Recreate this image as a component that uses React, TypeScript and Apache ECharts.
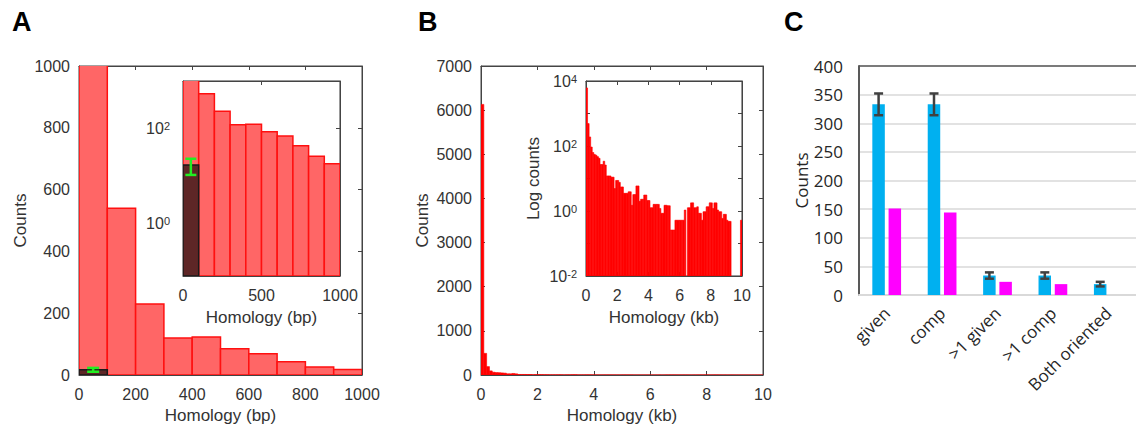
import React, { useEffect, useRef } from 'react';
import * as echarts from 'echarts';

// ---------- Panel A ----------
const aBinStarts = [0, 100, 200, 300, 400, 500, 600, 700, 800, 900];
const aBinWidth = 100;
const aCounts = [1150, 540, 230, 120, 123, 85, 69, 43, 26, 18];
const aOverlayBin = [0, 100];
const aOverlayCount = 17;
const aErr = { x: 50, low: 10.5, high: 23 };

// ---------- Panel B ----------
const bBinWidth = 0.1;
const bCounts = [
  6130, 490, 190, 93, 63, 55, 52, 47, 42, 27,
  27, 34, 26, 12, 12, 12, 11, 11, 4.9, 8.7,
  8.7, 7.6, 5.5, 5.5, 3.5, 3.5, 3.5, 3.9, 3.9, 1.5,
  3.2, 3.2, 5.9, 5.9, 2.0, 2.3, 2.3, 3.1, 3.1, 2.1,
  2.1, 1.26, 1.26, 1.6, 1.6, 1.6, 1.6, 1.2, 0.85, 0.85,
  1.5, 1.5, 1.45, 1.45, 0.26, 0.26, 0.26, 0.52, 0.52, 0.52,
  0.52, 0.52, 0.52, 1.07, 0, 1.26, 1.26, 1.78, 1.78, 1.26,
  1.26, 1.35, 0.85, 0.85, 0.52, 0.95, 0.95, 1.35, 1.35, 1.78,
  1.78, 1.2, 1.78, 1.78, 1.07, 0.95, 0.95, 0.59, 0.79, 0.79,
  0.52, 0.48, 0.48, 0, 0, 0, 0, 0, 0, 0.52,
];

// ---------- Panel C ----------
const cCategories = ['given', 'comp', '>1 given', '>1 comp', 'Both oriented'];
const cCyan = [333, 333, 34, 34, 19];
const cMagenta = [151, 144, 23, 19, 0];
const cCyanErr = [19, 19, 5.5, 5.5, 4];

const MFONT = '"Liberation Sans", Arial, Helvetica, sans-serif';
const XFONT = '"Open Sans", "Noto Sans", sans-serif';
const AX = '#444';
const TXT = '#333';
const plain = (v: number) => String(v);

function histSeries(xi: number, yi: number, data: any[], floor: number, style: any) {
  return {
    type: 'custom',
    xAxisIndex: xi,
    yAxisIndex: yi,
    clip: true,
    encode: { x: [0, 1], y: 2 },
    data,
    renderItem: (params: any, api: any) => {
      const y = api.value(2);
      if (y == null || isNaN(y)) return null;
      const p0 = api.coord([api.value(0), y]);
      const p1 = api.coord([api.value(1), floor]);
      return {
        type: 'rect',
        shape: { x: p0[0], y: p0[1], width: p1[0] - p0[0], height: p1[1] - p0[1] },
        style,
      };
    },
  };
}

function errSeries(xi: number, yi: number, data: any[], capHalf: number, dx: number, stroke: string, lw: number) {
  return {
    type: 'custom',
    xAxisIndex: xi,
    yAxisIndex: yi,
    z: 5,
    encode: { x: 0, y: [1, 2] },
    data,
    renderItem: (params: any, api: any) => {
      const x = api.value(0);
      const pl = api.coord([x, api.value(1)]);
      const ph = api.coord([x, api.value(2)]);
      const cx = pl[0] + dx;
      const st = { stroke, lineWidth: lw };
      return {
        type: 'group',
        children: [
          { type: 'line', shape: { x1: cx, y1: pl[1], x2: cx, y2: ph[1] }, style: st },
          { type: 'line', shape: { x1: cx - capHalf, y1: pl[1], x2: cx + capHalf, y2: pl[1] }, style: st },
          { type: 'line', shape: { x1: cx - capHalf, y1: ph[1], x2: cx + capHalf, y2: ph[1] }, style: st },
        ],
      };
    },
  };
}

// empty series that only binds the secondary (top/right) axes so they get drawn
function bindSeries(xi: number, yi: number) {
  return {
    type: 'custom', xAxisIndex: xi, yAxisIndex: yi, data: [],
    renderItem: () => null, silent: true,
  };
}

const supFormatter = (v: number) => {
  const e = Math.round(Math.log10(v));
  if (e % 2 !== 0) return '';
  return '{b|10}{s|' + e + '}';
};
const supRich = {
  b: { fontSize: 16, fontFamily: MFONT, color: TXT, verticalAlign: 'bottom', lineHeight: 16 },
  s: { fontSize: 11, fontFamily: MFONT, color: TXT, verticalAlign: 'top', lineHeight: 11, padding: [0, 0, 9, 0] },
};

function mAxis(extra: any) {
  return {
    axisLine: { show: true, onZero: false, lineStyle: { color: AX, width: 1 } },
    axisTick: { show: true, inside: true, length: 4, lineStyle: { color: AX } },
    splitLine: { show: false },
    axisLabel: { color: TXT, fontSize: 16, fontFamily: MFONT, margin: 9, formatter: plain },
    nameTextStyle: { color: TXT, fontSize: 17, fontFamily: MFONT },
    ...extra,
  };
}

function boxAxis(grid: number, pos: string, type: string, extra: any) {
  return mAxis({ gridIndex: grid, position: pos, type, offset: 0, axisLabel: { show: false }, ...extra });
}

const xLab = { color: TXT, fontSize: 16, fontFamily: MFONT, margin: 11, formatter: plain };

export default function App() {
  const ref = useRef<HTMLDivElement>(null);
  useEffect(() => {
    if (!ref.current) return;
    const chart = echarts.init(ref.current, null, { renderer: 'svg' });

    const aData = aBinStarts.map((s, i) => [s, s + aBinWidth, aCounts[i]]);
    const aOverlay = [[aOverlayBin[0], aOverlayBin[1], aOverlayCount]];
    const aErrData = [[aErr.x, aErr.low, aErr.high]];
    const bData = bCounts.map((c, i) => [i * bBinWidth, (i + 1) * bBinWidth, c]);
    const bLogData = bCounts.map((c, i) => [i * bBinWidth, (i + 1) * bBinWidth, c > 0 ? c : '-']);
    const cErrData = cCyan.map((v, i) => [i, v - cCyanErr[i], v + cCyanErr[i]]);

    const redStyle = { fill: '#FF6666', stroke: '#FF1010', lineWidth: 1.5 };
    const darkStyle = { fill: '#5E2626', stroke: '#1a1a1a', lineWidth: 1.5 };
    const pureRed = { fill: '#FF0000', stroke: '#FF0000', lineWidth: 0.6 };

    const aLogMin = 0.078;
    const bLogMin = 0.01;

    const option: any = {
      animation: false,
      backgroundColor: '#fff',
      title: [
        { text: 'A', left: 7, top: 3, textStyle: { fontSize: 27, fontWeight: 'bold', color: '#000', fontFamily: MFONT } },
        { text: 'B', left: 413, top: 3, textStyle: { fontSize: 27, fontWeight: 'bold', color: '#000', fontFamily: MFONT } },
        { text: 'C', left: 779, top: 3, textStyle: { fontSize: 27, fontWeight: 'bold', color: '#000', fontFamily: MFONT } },
      ],
      // top frame line of panel C's plot area (Excel plot-area border)
      graphic: [
        { type: 'line', z: 10, shape: { x1: 859, y1: 66, x2: 1136, y2: 66 }, style: { stroke: '#595959', lineWidth: 1.5 } },
      ],
      grid: [
        { left: 79, top: 66, width: 283, height: 310, show: true, borderColor: AX, borderWidth: 1, backgroundColor: 'transparent' },
        { left: 183, top: 81, width: 157, height: 195, show: true, backgroundColor: '#fff', borderColor: '#333', borderWidth: 1, z: 3 },
        { left: 481, top: 66, width: 282, height: 310, show: true, borderColor: AX, borderWidth: 1, backgroundColor: 'transparent' },
        { left: 586, top: 81, width: 156, height: 195, show: true, backgroundColor: '#fff', borderColor: '#333', borderWidth: 1, z: 3 },
        { left: 859, top: 66, width: 283, height: 229 },
      ],
      xAxis: [
        mAxis({ gridIndex: 0, type: 'value', min: 0, max: 1000, interval: 200, name: 'Homology (bp)', nameLocation: 'middle', nameGap: 32, axisLabel: xLab }),
        boxAxis(0, 'top', 'value', { min: 0, max: 1000, interval: 200 }),
        mAxis({ gridIndex: 1, type: 'value', min: 0, max: 1000, interval: 500, name: 'Homology (bp)', nameLocation: 'middle', nameGap: 33, z: 4, axisLabel: xLab }),
        boxAxis(1, 'top', 'value', { min: 0, max: 1000, interval: 500, z: 4 }),
        mAxis({ gridIndex: 2, type: 'value', min: 0, max: 10, interval: 2, name: 'Homology (kb)', nameLocation: 'middle', nameGap: 32, axisLabel: xLab }),
        boxAxis(2, 'top', 'value', { min: 0, max: 10, interval: 2 }),
        mAxis({ gridIndex: 3, type: 'value', min: 0, max: 10, interval: 2, name: 'Homology (kb)', nameLocation: 'middle', nameGap: 33, z: 4, axisLabel: xLab }),
        boxAxis(3, 'top', 'value', { min: 0, max: 10, interval: 2, z: 4 }),
        {
          gridIndex: 4, type: 'category', data: cCategories, position: 'bottom', z: 2,
          axisLine: { show: true, lineStyle: { color: '#d9d9d9', width: 2 } },
          axisTick: { show: false },
          axisLabel: { interval: 0, rotate: 45, color: '#262626', fontSize: 17, fontFamily: XFONT, margin: 15 },
        },
      ],
      yAxis: [
        mAxis({ gridIndex: 0, type: 'value', min: 0, max: 1000, interval: 200, name: 'Counts', nameLocation: 'middle', nameGap: 50 }),
        boxAxis(0, 'right', 'value', { min: 0, max: 1000, interval: 200 }),
        mAxis({ gridIndex: 1, type: 'log', logBase: 10, min: aLogMin, max: 1000, z: 4, axisTick: { show: false }, axisLabel: { formatter: supFormatter, rich: supRich, margin: 13 } }),
        boxAxis(1, 'right', 'log', { logBase: 10, min: aLogMin, max: 1000, z: 4 }),
        mAxis({ gridIndex: 2, type: 'value', min: 0, max: 7000, interval: 1000, name: 'Counts', nameLocation: 'middle', nameGap: 50 }),
        boxAxis(2, 'right', 'value', { min: 0, max: 7000, interval: 1000 }),
        mAxis({ gridIndex: 3, type: 'log', logBase: 10, min: bLogMin, max: 10000, z: 4, name: 'Log counts', nameLocation: 'middle', nameGap: 44, axisLabel: { formatter: supFormatter, rich: supRich, margin: 9 } }),
        boxAxis(3, 'right', 'log', { logBase: 10, min: bLogMin, max: 10000, z: 4 }),
        {
          gridIndex: 4, type: 'value', min: 0, max: 400, interval: 50, z: 0,
          name: 'Counts', nameLocation: 'middle', nameGap: 49,
          nameTextStyle: { color: '#262626', fontSize: 17, fontFamily: XFONT },
          axisLine: { show: true, lineStyle: { color: '#595959', width: 2 } },
          axisTick: { show: false },
          splitLine: { show: true, lineStyle: { color: '#d9d9d9', width: 1.5 } },
          axisLabel: { color: '#262626', fontSize: 17, fontFamily: XFONT, margin: 16 },
        },
      ],
      series: [
        // A main
        histSeries(0, 0, aData, 0, redStyle),
        histSeries(0, 0, aOverlay, 0, darkStyle),
        errSeries(0, 0, aErrData, 6, 0, '#22EE22', 2.5),
        bindSeries(1, 1),
        // A inset
        { ...histSeries(2, 2, aData, aLogMin, redStyle), z: 6 },
        { ...histSeries(2, 2, aOverlay, aLogMin, darkStyle), z: 6 },
        { ...errSeries(2, 2, aErrData, 5.5, 0, '#22EE22', 2.5), z: 7 },
        bindSeries(3, 3),
        // B main
        histSeries(4, 4, bData, 0, pureRed),
        bindSeries(5, 5),
        // B inset
        { ...histSeries(6, 6, bLogData, bLogMin, pureRed), z: 6 },
        bindSeries(7, 7),
        // C
        {
          type: 'bar', xAxisIndex: 8, yAxisIndex: 8, data: cCyan, barWidth: 12.5, barGap: '30%',
          itemStyle: { color: '#00B0F0' },
        },
        {
          type: 'bar', xAxisIndex: 8, yAxisIndex: 8, data: cMagenta, barWidth: 12.5, barGap: '30%',
          itemStyle: { color: '#FF00FF' },
        },
        errSeries(8, 8, cErrData, 4.5, -8.1, '#404040', 2.5),
      ],
    };
    chart.setOption(option);
    return () => chart.dispose();
  }, []);
  return <div ref={ref} style={{ position: 'absolute', left: 0, top: 0, width: 1136, height: 429 }} />;
}
